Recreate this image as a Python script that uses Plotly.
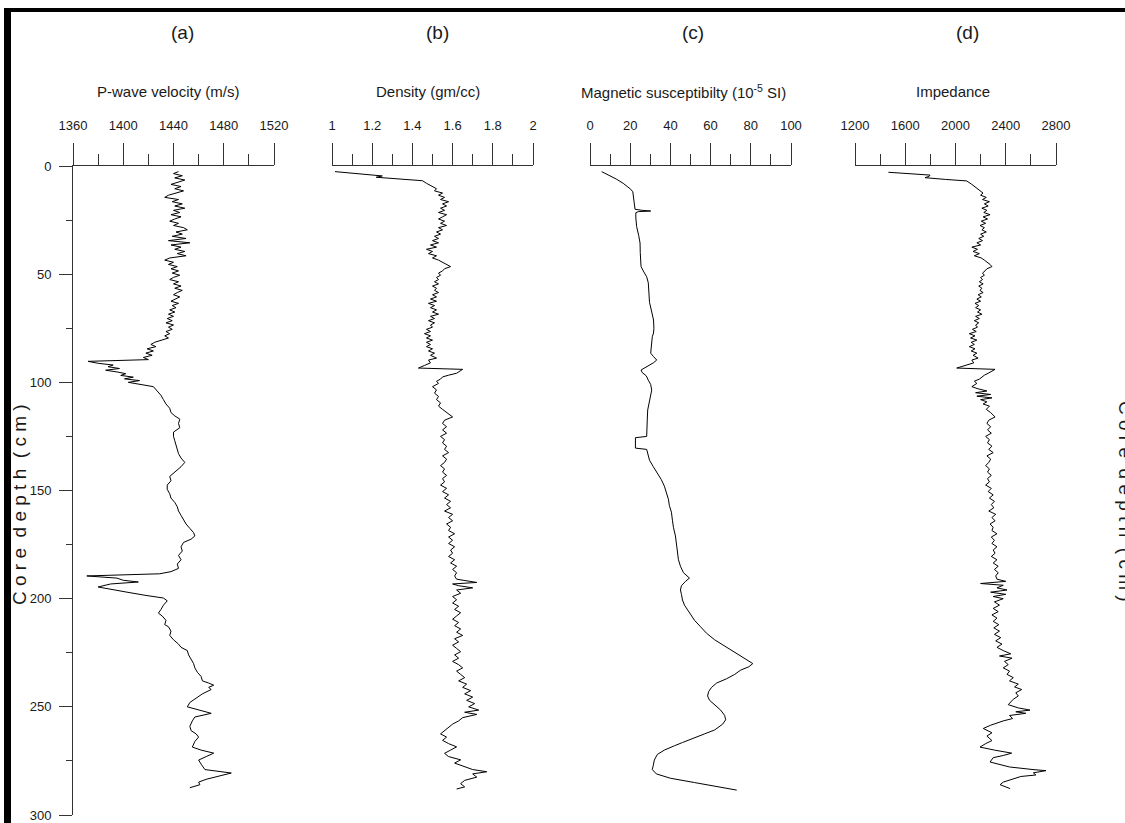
import plotly.graph_objects as go

# ---------------- data ----------------
depth_vp = [2.6, 3.5, 4.5, 5.5, 6.5, 7.5, 8.5, 9.5, 10.5, 11.5, 12.5, 13.5, 14.5, 15.5, 16.5, 17.5, 18.5, 19.5,
            20.5, 21.5, 22.5, 23.5, 24.5, 25.5, 26.5, 27.5, 28.5, 29.5, 30.5, 31.5, 32.5, 33.5, 34.5, 35.5, 36.5,
            37.5, 38.5, 39.5, 40.5, 41.5, 42.5, 43.5, 44.5, 45.5, 46.5, 47.5, 48.5, 49.5, 50.5, 51.5, 52.5, 53.5,
            54.5, 55.5, 56.5, 57.5, 58.5, 59.5, 60.5, 61.5, 62.5, 63.5, 64.5, 65.5, 66.5, 67.5, 68.5, 69.5, 70.5,
            71.5, 72.5, 73.5, 74.5, 75.5, 76.5, 77.5, 78.5, 79.5, 80.5, 81.5, 82.5, 83.5, 84.5, 85.5, 86.5, 87.5,
            88.5, 89.5, 90.3, 91.2, 92.0, 92.8, 93.6, 94.4, 95.2, 96.0, 96.8, 97.6, 98.4, 99.2, 100, 101, 102, 104,
            106, 108, 110, 112, 114, 115.5, 117, 119, 121, 123, 125, 127, 129, 131, 133, 135, 137, 139, 141, 143.5,
            145.5, 147.5, 149.5, 151.5, 153.5, 155.5, 157.5, 159.5, 161.5, 163.5, 165.5, 167.5, 169.5, 171, 172.5,
            174, 176, 178, 180, 182, 184, 186, 187.5, 188.5, 189.5, 190.5, 191.5, 192.3, 193.2, 194.6, 196, 197,
            198.5, 199.7, 201, 203, 205, 206.7, 208, 210, 212, 213, 215, 217, 219, 221, 222.5, 224, 226, 228, 230,
            232, 234, 236, 238, 239, 240, 241, 242, 244, 246, 248, 250, 251.5, 253, 254.7, 256.5, 259, 261, 262.5,
            264, 266, 268.6, 270, 271.4, 273, 274.6, 276.5, 279, 280.6, 282.5, 283.5, 284.8, 286, 287.4]
vp = [1444, 1440, 1447, 1441, 1449, 1443, 1438, 1446, 1441, 1448, 1442, 1436, 1433, 1444, 1439, 1447, 1441, 1449,
      1440, 1445, 1438, 1446, 1441, 1437, 1444, 1440, 1448, 1451, 1442, 1447, 1439, 1450, 1436, 1453, 1438,
      1446, 1441, 1449, 1443, 1450, 1437, 1433, 1440, 1436, 1443, 1438, 1444, 1439, 1445, 1440, 1437, 1444,
      1440, 1446, 1441, 1447, 1443, 1440, 1445, 1441, 1438, 1444, 1439, 1442, 1437, 1441, 1436, 1440, 1435,
      1439, 1434, 1440, 1436, 1439, 1434, 1437, 1433, 1436, 1431, 1425, 1422, 1426, 1419, 1424, 1418, 1423,
      1416, 1420, 1372, 1380, 1392, 1388, 1397, 1386, 1395, 1402, 1398, 1408, 1401, 1413, 1404, 1414, 1424, 1427,
      1430, 1432, 1434, 1437, 1438, 1441, 1445, 1444, 1445, 1440, 1440, 1441, 1442, 1443, 1444, 1446, 1449, 1446, 1442, 1437,
      1438, 1435, 1435, 1437, 1438, 1441, 1443, 1444, 1446, 1448, 1450, 1453, 1456, 1457, 1454,
      1448, 1446, 1447, 1444, 1446, 1443, 1444, 1438, 1429, 1371, 1395, 1400, 1412, 1390, 1380, 1392, 1403,
      1418, 1432, 1435, 1432, 1430, 1428, 1431, 1434, 1433, 1436, 1438, 1437, 1440, 1444, 1446, 1451, 1452, 1454, 1456,
      1457, 1459, 1462, 1463, 1468, 1472, 1468, 1470, 1463, 1458, 1453, 1451, 1460, 1470, 1457, 1455, 1453, 1454, 1458,
      1460, 1457, 1455, 1462, 1472, 1466, 1460, 1462, 1465, 1486, 1472, 1466, 1460, 1461, 1453]

depth_den = [2.6, 3.5, 4.2, 4.6, 5.2, 6.0, 6.8, 8, 9.6, 10.5, 11.5, 12.5, 13.5, 14.5, 15.5, 16.5, 17.5, 18.5, 19.5,
             20.5, 21.5, 22.5, 23.5, 24.5, 25.5, 26.5, 27.5, 28.5, 29.5, 30.5, 31.5, 32.5, 33.5, 34.5, 35.5, 36.5,
             37.5, 38.5, 39.5, 40.5, 41.5, 42.5, 43.5, 44.5, 45.5, 46.5, 47.5, 48.5, 49.5, 50.5, 51.5, 52.5, 53.5,
             54.5, 55.5, 56.5, 57.5, 58.5, 59.5, 60.5, 61.5, 62.5, 63.5, 64.5, 65.5, 66.5, 67.5, 68.5, 69.5, 70.5,
             71.5, 72.5, 73.5, 74.5, 75.5, 76.5, 77.5, 78.5, 79.5, 80.5, 81.5, 82.5, 83.5, 84.5, 85.5, 86.5, 87.5,
             88.8, 89.7, 91, 92.2, 93.4, 94, 95, 95.8, 96.7, 97.5, 98.5, 99.5, 100.5, 102, 103.5, 105, 106.5, 108,
             109.5, 111, 112.5, 114, 116, 117.5, 119, 120.5, 122, 123.5, 125, 126.5, 128, 129.5, 131, 132.5, 134,
             135.5, 137, 138.5, 140, 141.5, 143, 144.5, 146, 147.5, 149, 150.5, 152, 153.5, 155, 156.5, 158, 159.5,
             161, 162.5, 164, 165.5, 167, 168.5, 170, 171.5, 173, 174.5, 176, 177.5, 179, 180.5, 182, 183.5, 185,
             186.5, 188, 189.5, 191, 192.5, 193.2, 194, 195, 196, 197.5, 199, 200.5, 202, 203.5, 205, 206.5, 208,
             209.5, 211, 212.5, 214, 215.5, 217, 218.5, 220, 221.5, 223, 224.5, 226, 227.5, 229, 230.5, 232, 233.5,
             235, 236.5, 238, 239.5, 241, 242.5, 244, 245.5, 247, 248.5, 250, 251.5, 252.5, 253.5, 255, 256.5, 258,
             259.5, 261, 262.5, 264, 265.5, 267, 268.5, 270, 271.5, 273, 274.5, 276, 277.5, 279, 280, 281, 282.5,
             284, 285.5, 287, 288]
den = [1.015, 1.13, 1.24, 1.25, 1.22, 1.34, 1.45, 1.47, 1.50, 1.52, 1.51, 1.55, 1.53, 1.56, 1.54, 1.58, 1.55, 1.57, 1.54,
       1.56, 1.53, 1.57, 1.55, 1.53, 1.56, 1.54, 1.57, 1.53, 1.55, 1.52, 1.54, 1.51, 1.53, 1.50, 1.53, 1.49,
       1.52, 1.47, 1.50, 1.48, 1.52, 1.50, 1.53, 1.55, 1.57, 1.59, 1.56, 1.55, 1.53, 1.54, 1.52, 1.53, 1.51,
       1.53, 1.50, 1.52, 1.51, 1.53, 1.50, 1.52, 1.49, 1.52, 1.48, 1.51, 1.49, 1.52, 1.50, 1.53, 1.49, 1.51,
       1.48, 1.51, 1.49, 1.50, 1.47, 1.49, 1.46, 1.49, 1.47, 1.50, 1.47, 1.49, 1.47, 1.50, 1.48, 1.51, 1.49,
       1.52, 1.48, 1.49, 1.46, 1.43, 1.65, 1.63, 1.62, 1.58, 1.55, 1.54, 1.52, 1.53, 1.50, 1.52, 1.51, 1.53, 1.52,
       1.54, 1.53, 1.55, 1.57, 1.60, 1.56, 1.55, 1.57, 1.55, 1.57, 1.54, 1.56, 1.55, 1.57, 1.56, 1.58, 1.55,
       1.57, 1.56, 1.54, 1.56, 1.55, 1.57, 1.55, 1.56, 1.54, 1.57, 1.55, 1.58, 1.56, 1.59, 1.57, 1.59, 1.56,
       1.60, 1.58, 1.60, 1.57, 1.59, 1.58, 1.61, 1.58, 1.60, 1.58, 1.61, 1.59, 1.60, 1.58, 1.61, 1.59, 1.62,
       1.60, 1.62, 1.61, 1.62, 1.72, 1.60, 1.63, 1.70, 1.62, 1.64, 1.60, 1.62, 1.60, 1.63, 1.61, 1.64, 1.62,
       1.60, 1.63, 1.61, 1.64, 1.62, 1.65, 1.61, 1.63, 1.60, 1.62, 1.64, 1.61, 1.63, 1.60, 1.63, 1.65, 1.62,
       1.64, 1.66, 1.63, 1.67, 1.65, 1.69, 1.66, 1.70, 1.67, 1.71, 1.68, 1.73, 1.66, 1.72, 1.65, 1.63, 1.60,
       1.58, 1.56, 1.54, 1.57, 1.55, 1.58, 1.62, 1.59, 1.56, 1.58, 1.64, 1.61, 1.66, 1.70, 1.77, 1.70, 1.72,
       1.66, 1.64, 1.66, 1.62]

depth_ms = [2.6, 4, 6, 8, 10, 10.7, 11.9, 14, 17, 20, 20.5, 20.8, 21.1, 21.6, 24, 28, 32, 35.6, 40, 46.5, 49, 51.2,
            54, 58, 63, 67, 71.2, 75, 77.2, 78.9, 82, 86.5, 88, 89.7, 91, 93, 94.3, 95.5, 97, 99, 101, 103.6, 107,
            110, 112.8, 117, 121, 125, 125.6, 128, 130.4, 131, 133, 136, 139, 142, 145, 148, 151, 154, 157, 160,
            163.7, 167, 171, 175, 179, 182, 185, 188, 190.5, 192, 194, 196, 198, 200.6, 203, 206, 210, 213, 216,
            219, 222, 225, 228, 230, 231.5, 233, 235, 237, 239, 241, 243, 245, 247, 249, 251.5, 254, 256, 258,
            260.7, 262.5, 264.5, 266.5, 268, 270, 272, 274.6, 277, 279, 281, 283, 285, 287, 288.5]
ms = [5.8, 9, 13, 16.5, 19.5, 20.2, 21.3, 21.6, 22, 22.4, 26, 30.2, 24, 22.8, 22.8, 23.2, 24.2, 24.9, 25, 25.4, 26.8,
      28.2, 29, 29.3, 29.6, 30.6, 31.6, 31.8, 31.6, 31.0, 30.6, 30.2, 31.5, 33.2, 31.5, 27.5, 25.4, 26, 28, 29, 30.2,
      30.7, 30, 29.2, 28.7, 28.5, 28.4, 28.2, 22.6, 22.6, 22.6, 28.2, 28.8, 29.6, 31.5, 33.5, 35.5, 37, 38, 39, 39.5,
      40.5, 41, 41.5, 42.5, 43, 43.5, 44, 45, 46.5, 49.5, 47.5, 45.5, 45, 45.5, 46, 47, 49, 52, 55, 58, 62, 67, 72,
      77, 81, 79, 75, 72, 68, 63, 60.5, 59, 58.5, 59.5, 62, 65, 67, 67.5, 66, 62, 57, 51, 46, 42, 37, 33.5, 32, 31.5,
      31, 33, 40, 52, 65, 73]

depth_imp = [2.9, 3.6, 4.2, 4.8, 5.4, 6.2, 6.9, 8.5, 10.3, 11.5, 12.5, 13.5, 14.5, 15.5, 16.5, 17.5, 18.5, 19.5, 20.5,
             21.5, 22.5, 23.5, 24.5, 25.5, 26.5, 27.5, 28.5, 29.5, 30.5, 31.5, 32.5, 33.5, 34.5, 35.5, 36.5, 37.5,
             38.5, 39.5, 40.5, 41.5, 42.5, 43.5, 44.5, 45.5, 46.5, 47.5, 48.5, 49.5, 50.5, 51.5, 52.5, 53.5, 54.5,
             55.5, 56.5, 57.5, 58.5, 59.5, 60.5, 61.5, 62.5, 63.5, 64.5, 65.5, 66.5, 67.5, 68.5, 69.5, 70.5, 71.5,
             72.5, 73.5, 74.5, 75.5, 76.5, 77.5, 78.5, 79.5, 80.5, 81.5, 82.5, 83.5, 84.5, 85.5, 86.5, 87.5, 88.8,
             89.7, 91, 92.2, 93.4, 94, 95, 95.8, 96.7, 97.5, 98.5, 99.5, 100.5, 102, 103, 104, 104.8, 105.6, 106.4,
             107.2, 108, 109, 110, 111, 112.5, 114, 116, 117.5, 119, 120.5, 122, 123.5, 125, 126.5, 128, 129.5, 131,
             132.5, 134, 135.5, 137, 138.5, 140, 141.5, 143, 144.5, 146, 147.5, 149, 150.5, 152, 153.5, 155, 156.5,
             158, 159.5, 161, 162.5, 164, 165.5, 167, 168.5, 170, 171.5, 173, 174.5, 176, 177.5, 179, 180.5, 182,
             183.5, 185, 186.5, 188, 189.5, 191, 192, 193, 193.8, 195, 196, 197, 198, 199, 200, 201.5, 203, 204.5,
             206, 207.5, 209, 210.5, 212, 213.5, 215, 216.5, 218, 219.5, 221, 222.5, 224, 225.5, 226.5, 227.5, 229,
             230.5, 232, 233.5, 235, 236.5, 238, 239.5, 240.8, 242, 243.5, 245, 246.5, 248, 249, 250.5, 251.5,
             252.3, 253, 254, 255.4, 256.5, 257.5, 258.5, 260, 261, 262, 263.5, 265.6, 267, 268.6, 270, 271.4,
             272.5, 273.5, 275.5, 276.5, 277.8, 279, 279.5, 280.5, 281.5, 282.2, 283, 284, 284.8, 286, 287, 287.8]
imp = [1466, 1620, 1797, 1790, 1757, 1920, 2089, 2130, 2169, 2190, 2219, 2200, 2245, 2215, 2270, 2230, 2260, 2210, 2250,
       2225, 2275, 2220, 2255, 2205, 2240, 2195, 2230, 2210, 2245, 2200, 2225, 2185, 2215, 2170, 2200, 2130,
       2175, 2140, 2190, 2150, 2205, 2230, 2255, 2275, 2290, 2250, 2235, 2215, 2230, 2200, 2215, 2190, 2220,
       2185, 2210, 2195, 2220, 2180, 2205, 2170, 2200, 2155, 2185, 2160, 2200, 2175, 2210, 2160, 2190, 2150,
       2185, 2160, 2175, 2135, 2165, 2110, 2155, 2120, 2170, 2125, 2150, 2110, 2155, 2125, 2170, 2140, 2180,
       2130, 2145, 2080, 2010, 2315, 2290, 2260, 2230, 2210, 2190, 2150, 2170, 2130, 2180, 2250, 2160, 2280, 2170,
       2290, 2200, 2250, 2220, 2270, 2245, 2280, 2315, 2265, 2250, 2280, 2255, 2285, 2240, 2270, 2255, 2290, 2265,
       2300, 2250, 2280, 2265, 2240, 2270, 2255, 2285, 2255, 2270, 2240, 2285, 2260, 2300, 2270, 2310, 2285,
       2305, 2265, 2320, 2290, 2315, 2275, 2300, 2290, 2330, 2285, 2310, 2290, 2330, 2300, 2315, 2285, 2330,
       2300, 2340, 2310, 2340, 2320, 2330, 2400, 2200, 2380, 2330, 2410, 2280, 2400, 2300, 2380, 2310, 2350, 2300,
       2340, 2290, 2330, 2300, 2345, 2305, 2350, 2310, 2360, 2320, 2370, 2330, 2380, 2440, 2350, 2450, 2390,
       2420, 2380, 2430, 2410, 2460, 2430, 2500, 2470, 2527, 2480, 2500, 2460, 2440, 2420, 2500, 2593,
       2480, 2560, 2430, 2455, 2380, 2328, 2280, 2221, 2260, 2290, 2250, 2290, 2240, 2195, 2310, 2447,
       2380, 2300, 2275, 2350, 2430, 2617, 2720, 2620, 2640, 2520, 2480, 2420, 2380, 2355, 2400, 2435]

panel_letters = ["(a)", "(b)", "(c)", "(d)"]
panel_titles = ["P-wave velocity (m/s)", "Density (gm/cc)",
                "Magnetic susceptibilty (10<sup>-5</sup> SI)", "Impedance"]
x_ranges = [[1360, 1520], [1, 2], [0, 100], [1200, 2800]]
x_major = [40, 0.2, 20, 400]
x_minor = [20, 0.1, 10, 200]
depth_range = [300, 0]
depth_ticks = [0, 50, 100, 150, 200, 250, 300]
y_label = "C o r e  d e p t h  ( c m )"

# ---------------- layout geometry (pixels) ----------------
W, H = 1125, 823
px_left = [73, 332, 590, 855]
px_width = 201
y_top, y_bot = 166, 815
letter_x = [182, 437, 693, 967]
title_x = [168, 428, 683, 953]

FONT = "Liberation Sans Narrow, Arial Narrow, Liberation Sans, Arial, sans-serif"
AXC = "#333333"
TXT = "#1a1a1a"

fig = go.Figure()
series = [(vp, depth_vp), (den, depth_den), (ms, depth_ms), (imp, depth_imp)]
for i, (xv, dv) in enumerate(series):
    fig.add_trace(go.Scatter(x=xv, y=dv, mode="lines",
                             line=dict(color="black", width=1),
                             xaxis="x" if i == 0 else f"x{i+1}", yaxis="y",
                             showlegend=False, hoverinfo="x+y"))

layout = dict(width=W, height=H, margin=dict(l=0, r=0, t=0, b=0, pad=0),
              paper_bgcolor="white", plot_bgcolor="white", template="none",
              font=dict(family=FONT, color=TXT, size=13), showlegend=False)

for i in range(4):
    key = "xaxis" if i == 0 else f"xaxis{i+1}"
    layout[key] = dict(
        domain=[px_left[i] / W, (px_left[i] + px_width) / W],
        range=x_ranges[i], side="top", anchor="y", automargin=False,
        showline=True, linecolor=AXC, linewidth=1, mirror=False,
        ticks="outside", ticklen=22, tickcolor=AXC, tickwidth=1,
        tick0=x_ranges[i][0], dtick=x_major[i],
        minor=dict(ticks="outside", ticklen=11, tickcolor=AXC, tickwidth=1,
                   tick0=x_ranges[i][0], dtick=x_minor[i]),
        showgrid=False, zeroline=False, fixedrange=True,
        tickfont=dict(family=FONT, size=13, color=TXT),
        ticklabelstandoff=8,
    )

y_dom = [1 - y_bot / H, 1 - y_top / H]
layout["yaxis"] = dict(
    domain=y_dom, range=depth_range, anchor="x", automargin=False,
    showline=True, linecolor=AXC, linewidth=1,
    ticks="outside", ticklen=13, tickcolor=AXC, tickwidth=1,
    tickvals=depth_ticks,
    minor=dict(ticks="outside", ticklen=6, tickcolor=AXC, tickwidth=1, tick0=25, dtick=50),
    showgrid=False, zeroline=False, fixedrange=True,
    tickfont=dict(family=FONT, size=13, color=TXT),
    ticklabelstandoff=5,
)
layout["yaxis2"] = dict(
    domain=y_dom, range=depth_range, overlaying="y", side="right",
    anchor="free", position=(px_left[3] + px_width) / W, automargin=False,
    showline=True, linecolor=AXC, linewidth=1,
    ticks="outside", ticklen=22, tickcolor=AXC, tickwidth=1,
    tickvals=depth_ticks,
    minor=dict(ticks="outside", ticklen=17, tickcolor=AXC, tickwidth=1, tick0=25, dtick=50),
    showgrid=False, zeroline=False, fixedrange=True,
    tickfont=dict(family=FONT, size=13, color=TXT),
    ticklabelstandoff=6,
)

annotations = []
for i in range(4):
    annotations.append(dict(text=panel_letters[i], x=letter_x[i] / W, y=1 - 33 / H,
                            xref="paper", yref="paper", showarrow=False,
                            xanchor="center", yanchor="middle",
                            font=dict(family=FONT, size=19, color=TXT)))
    annotations.append(dict(text=panel_titles[i], x=title_x[i] / W, y=1 - 91 / H,
                            xref="paper", yref="paper", showarrow=False,
                            xanchor="center", yanchor="middle",
                            font=dict(family=FONT, size=15, color=TXT)))
annotations.append(dict(text=y_label, x=20 / W, y=1 - 505 / H, xref="paper", yref="paper",
                        showarrow=False, textangle=-90, xanchor="center", yanchor="middle",
                        font=dict(family=FONT, size=19, color=TXT)))
annotations.append(dict(text=y_label, x=1126 / W, y=1 - 501 / H, xref="paper", yref="paper",
                        showarrow=False, textangle=90, xanchor="center", yanchor="middle",
                        font=dict(family=FONT, size=19, color=TXT)))
layout["annotations"] = annotations

layout["shapes"] = [
    dict(type="rect", xref="paper", yref="paper", x0=4 / W, x1=11 / W, y0=0, y1=1 - 8 / H,
         fillcolor="black", line=dict(width=0), layer="above"),
    dict(type="rect", xref="paper", yref="paper", x0=4 / W, x1=1, y0=1 - 12 / H, y1=1 - 8 / H,
         fillcolor="black", line=dict(width=0), layer="above"),
]

fig.update_layout(**layout)
fig.write_html("out.html", config={"displayModeBar": False},
               post_script="document.body.style.margin='0';document.body.style.overflow='hidden';")
